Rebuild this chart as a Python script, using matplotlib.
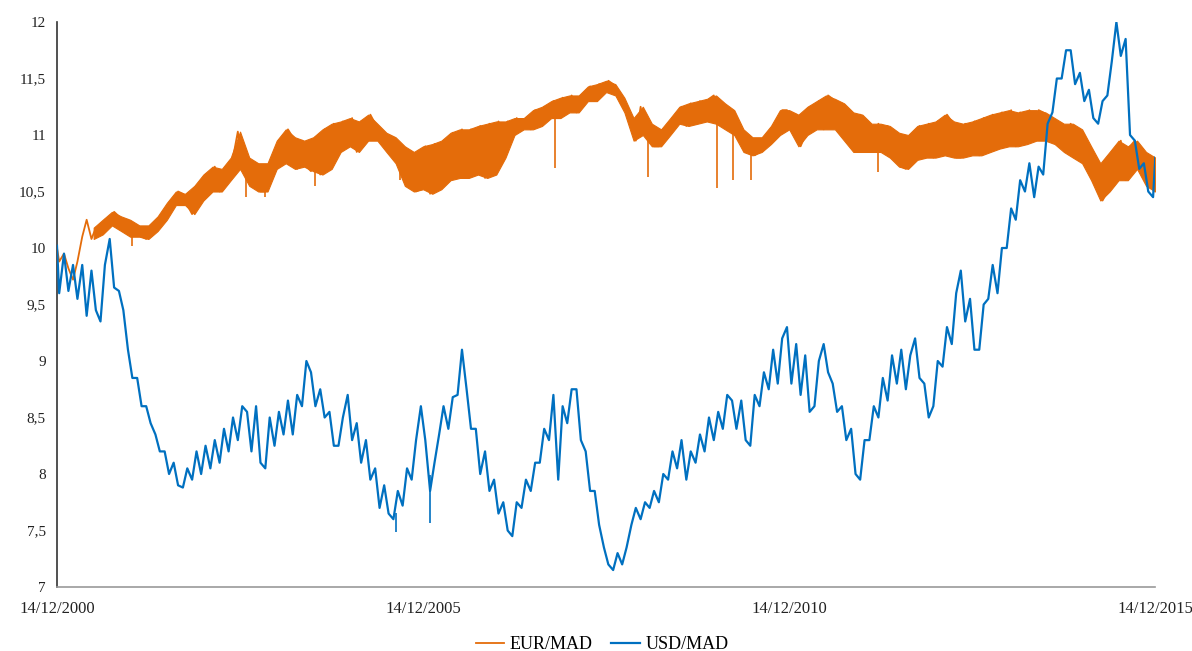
import numpy as np
import matplotlib
matplotlib.use("Agg")
import matplotlib.pyplot as plt
from matplotlib.ticker import FuncFormatter

# Exchange rates sampled every 1.5 months from 14/12/2000 to 14/12/2015:
# upper and lower value reached within each sampling window.
eur_high = [10.00, 9.95, 9.88, 10.25, 10.18, 10.25, 10.32, 10.28, 10.25, 10.20,
            10.20, 10.28, 10.40, 10.50, 10.48, 10.55, 10.65, 10.72, 10.70, 10.80,
            11.03, 10.80, 10.75, 10.75, 10.95, 11.05, 10.98, 10.95, 10.98, 11.05,
            11.10, 11.12, 11.15, 11.12, 11.18, 11.10, 11.02, 10.98, 10.90, 10.85,
            10.90, 10.92, 10.95, 11.02, 11.05, 11.05, 11.08, 11.10, 11.12, 11.12,
            11.15, 11.15, 11.22, 11.25, 11.30, 11.33, 11.35, 11.35, 11.43, 11.45,
            11.48, 11.45, 11.33, 11.15, 11.25, 11.10, 11.05, 11.15, 11.25, 11.28,
            11.30, 11.32, 11.35, 11.28, 11.22, 11.05, 10.98, 10.98, 11.08, 11.22,
            11.22, 11.18, 11.25, 11.30, 11.35, 11.32, 11.28, 11.20, 11.18, 11.10,
            11.10, 11.08, 11.02, 11.00, 11.08, 11.10, 11.12, 11.18, 11.12, 11.10,
            11.12, 11.15, 11.18, 11.20, 11.22, 11.20, 11.22, 11.22, 11.20, 11.15,
            11.10, 11.10, 11.05, 10.90, 10.75, 10.85, 10.95, 10.90, 10.95, 10.85,
            10.80]
eur_low = [9.88, 9.82, 9.72, 10.10, 10.08, 10.12, 10.20, 10.15, 10.10, 10.10,
           10.08, 10.15, 10.25, 10.38, 10.38, 10.30, 10.42, 10.50, 10.50, 10.60,
           10.70, 10.55, 10.50, 10.50, 10.70, 10.75, 10.70, 10.72, 10.68, 10.65,
           10.70, 10.85, 10.90, 10.85, 10.95, 10.95, 10.85, 10.75, 10.55, 10.50,
           10.52, 10.48, 10.52, 10.60, 10.62, 10.62, 10.65, 10.62, 10.65, 10.80,
           11.00, 11.05, 11.05, 11.08, 11.15, 11.15, 11.20, 11.20, 11.30, 11.30,
           11.38, 11.35, 11.20, 10.95, 11.00, 10.90, 10.90, 11.00, 11.10, 11.08,
           11.10, 11.12, 11.10, 11.05, 11.00, 10.85, 10.82, 10.85, 10.92, 11.00,
           11.05, 10.90, 11.00, 11.05, 11.05, 11.05, 10.95, 10.85, 10.85, 10.85,
           10.85, 10.80, 10.72, 10.70, 10.78, 10.80, 10.80, 10.82, 10.80, 10.80,
           10.82, 10.82, 10.85, 10.88, 10.90, 10.90, 10.92, 10.95, 10.95, 10.92,
           10.85, 10.80, 10.75, 10.60, 10.42, 10.50, 10.60, 10.60, 10.70, 10.55,
           10.50]
usd_high = [10.02, 9.95, 9.85, 9.85, 9.80, 9.85, 10.08, 9.62, 9.10, 8.85,
            8.60, 8.35, 8.20, 8.10, 8.05, 8.20, 8.25, 8.30, 8.40, 8.50,
            8.60, 8.55, 8.60, 8.50, 8.55, 8.65, 8.70, 9.00, 8.90, 8.75,
            8.55, 8.50, 8.70, 8.45, 8.30, 8.05, 7.90, 7.85, 8.05, 8.30,
            8.60, 8.10, 8.60, 8.68, 9.10, 8.75, 8.40, 8.20, 7.95, 7.75,
            7.75, 7.95, 8.10, 8.40, 8.70, 8.60, 8.75, 8.75, 8.20, 7.85,
            7.35, 7.30, 7.35, 7.70, 7.75, 7.85, 8.00, 8.20, 8.30, 8.20,
            8.35, 8.50, 8.55, 8.70, 8.65, 8.65, 8.70, 8.90, 9.10, 9.20,
            9.30, 9.15, 9.05, 9.00, 9.15, 8.80, 8.60, 8.40, 8.30, 8.60,
            8.85, 9.05, 9.10, 9.05, 9.20, 8.80, 9.00, 9.30, 9.60, 9.80,
            9.55, 9.50, 9.85, 10.00, 10.35, 10.60, 10.75, 10.72, 11.10, 11.50,
            11.75, 11.75, 11.55, 11.40, 11.30, 11.65, 12.00, 11.85, 10.95, 10.75,
            10.80]
usd_low = [9.60, 9.62, 9.55, 9.40, 9.45, 9.35, 9.65, 9.45, 8.85, 8.60,
           8.45, 8.20, 8.00, 7.90, 7.88, 7.95, 8.00, 8.05, 8.10, 8.20,
           8.30, 8.20, 8.10, 8.05, 8.25, 8.35, 8.35, 8.60, 8.60, 8.50,
           8.25, 8.25, 8.30, 8.10, 7.95, 7.70, 7.65, 7.60, 7.72, 7.95,
           8.30, 7.85, 8.35, 8.40, 8.70, 8.40, 8.00, 7.85, 7.65, 7.50,
           7.45, 7.70, 7.85, 8.10, 8.30, 7.95, 8.45, 8.30, 7.85, 7.55,
           7.20, 7.15, 7.20, 7.55, 7.60, 7.70, 7.75, 7.95, 8.05, 7.95,
           8.10, 8.20, 8.30, 8.40, 8.40, 8.30, 8.25, 8.60, 8.75, 8.80,
           8.80, 8.70, 8.55, 8.60, 8.90, 8.55, 8.30, 8.00, 7.95, 8.30,
           8.50, 8.65, 8.80, 8.75, 8.85, 8.50, 8.60, 8.95, 9.15, 9.35,
           9.10, 9.10, 9.55, 9.60, 10.00, 10.25, 10.50, 10.45, 10.65, 11.20,
           11.50, 11.45, 11.30, 11.15, 11.10, 11.35, 11.70, 11.00, 10.70, 10.50,
           10.45]

# Isolated one-day drops
eur_dip_dates = ["2001-12-21", "2003-07-15", "2003-10-20", "2004-06-25",
                 "2005-08-20", "2007-10-05", "2009-01-10", "2009-12-20",
                 "2010-03-10", "2010-06-05", "2012-03-01"]
eur_dip_values = [10.02, 10.45, 10.45, 10.55, 10.60, 10.71, 10.63,
                  10.53, 10.60, 10.60, 10.67]
usd_dip_dates = ["2005-08-01", "2006-01-20"]
usd_dip_values = [7.49, 7.57]

series_names = ["EUR/MAD", "USD/MAD"]
series_colors = ["#E46C0A", "#0070C0"]
y_ticks = [7, 7.5, 8, 8.5, 9, 9.5, 10, 10.5, 11, 11.5, 12]
x_tick_labels = ["14/12/2000", "14/12/2005", "14/12/2010", "14/12/2015"]
dense_band_from = "2001-05-01"   # after the April 2001 step in EUR/MAD

start = np.datetime64("2000-12-14")
end = np.datetime64("2015-12-14")
span_days = int((end - start).astype(int))
n = len(eur_high)
window_days = span_days / (n - 1)
centers = start + np.round(np.arange(n) * window_days).astype("timedelta64[D]")


def trace(high, low):
    """Walk each window from low to high (or back) following the local trend."""
    high = np.asarray(high)
    low = np.asarray(low)
    mid = (high + low) / 2
    xs, ys = [], []
    for k in range(n):
        nxt = mid[min(k + 1, n - 1)]
        prv = mid[max(k - 1, 0)]
        pair = (low[k], high[k]) if nxt >= prv else (high[k], low[k])
        d0 = centers[k] - np.timedelta64(int(window_days / 4), "D")
        d1 = centers[k] + np.timedelta64(int(window_days / 4), "D")
        d0 = max(d0, start)
        d1 = min(d1, end)
        xs += [d0, d1]
        ys += list(pair)
    return np.array(xs), np.array(ys)


plt.rcParams["font.family"] = ["Liberation Serif", "DejaVu Serif"]
fig = plt.figure(figsize=(11.92, 6.51), dpi=100)
ax = fig.add_axes([0.0478, 0.0983, 0.9214, 0.8679])

# EUR/MAD
ex, ey = trace(eur_high, eur_low)
band = centers >= np.datetime64(dense_band_from)
ax.fill_between(centers[band], np.array(eur_low)[band], np.array(eur_high)[band],
                color=series_colors[0], lw=0.8, zorder=2)
ax.plot(ex, ey, color=series_colors[0], lw=1.3, zorder=2, label=series_names[0])
dd = np.array(eur_dip_dates, dtype="datetime64[D]")
ax.vlines(dd, eur_dip_values,
          np.interp(dd.astype(float), centers.astype(float), eur_low) + 0.02,
          color=series_colors[0], lw=1.2, zorder=2)

# USD/MAD
ux, uy = trace(usd_high, usd_low)
ax.plot(ux, uy, color=series_colors[1], lw=1.6, zorder=3, label=series_names[1])
ud = np.array(usd_dip_dates, dtype="datetime64[D]")
ax.vlines(ud, usd_dip_values,
          np.interp(ud.astype(float), centers.astype(float), usd_low) + 0.05,
          color=series_colors[1], lw=1.2, zorder=3)

ax.set_ylim(7, 12)
ax.set_xlim(start, end)
ax.set_yticks(y_ticks)
ax.yaxis.set_major_formatter(FuncFormatter(lambda v, p: f"{v:g}".replace(".", ",")))
tick_dates = [np.datetime64(f"{y}-12-14") for y in (2000, 2005, 2010, 2015)]
ax.set_xticks(tick_dates)
ax.set_xticklabels(x_tick_labels)
ax.tick_params(axis="y", length=0, pad=8, labelsize=11, colors="#222222")
ax.tick_params(axis="x", length=0, pad=10, labelsize=12, colors="#222222")

for side in ("top", "right"):
    ax.spines[side].set_visible(False)
ax.spines["left"].set_color("#333333")
ax.spines["left"].set_linewidth(1.2)
ax.spines["bottom"].set_color("#999999")
ax.spines["bottom"].set_linewidth(1.2)

fig.legend(loc="lower center", bbox_to_anchor=(0.505, -0.028), ncol=2,
           frameon=False, fontsize=13, handlelength=1.6, handletextpad=0.3,
           columnspacing=1.0)

fig.savefig("out.png", dpi=100)
